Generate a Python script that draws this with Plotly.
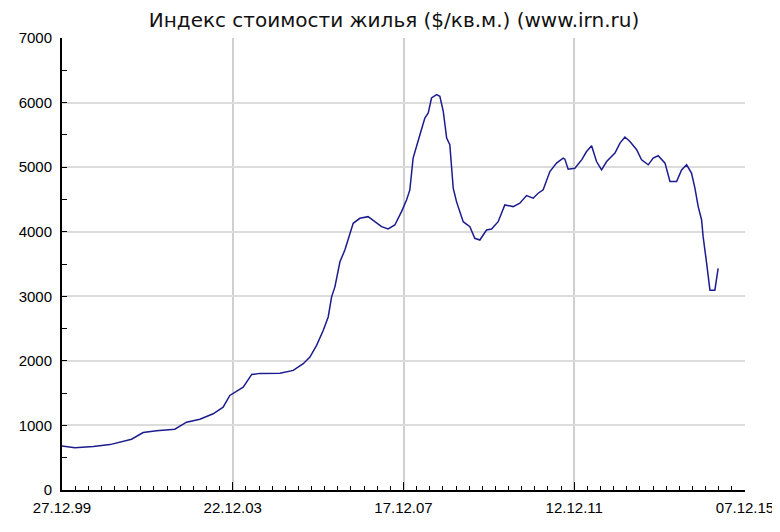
import plotly.graph_objects as go

dates = [
    "1999-12-27", "2000-04-15", "2000-09-19", "2001-02-08", "2001-08-11", "2001-11-18",
    "2002-03-13", "2002-08-15", "2002-11-23", "2003-03-17", "2003-07-08", "2003-10-01",
    "2003-11-27", "2004-03-20", "2004-06-01", "2004-08-10", "2005-01-28", "2005-05-21",
    "2005-08-14", "2005-10-10", "2005-12-06", "2006-02-01", "2006-03-15", "2006-04-13",
    "2006-05-11", "2006-06-23", "2006-08-04", "2006-09-16", "2006-10-14", "2006-12-10",
    "2007-02-18", "2007-04-17", "2007-06-13", "2007-08-08", "2007-10-04", "2007-11-30",
    "2008-01-12", "2008-02-09", "2008-03-08", "2008-05-05", "2008-06-16", "2008-07-15",
    "2008-08-12", "2008-09-24", "2008-10-22", "2008-11-20", "2008-12-19", "2009-01-15",
    "2009-02-13", "2009-03-13", "2009-05-09", "2009-07-05", "2009-08-16", "2009-09-28",
    "2009-11-24", "2010-01-06", "2010-03-03", "2010-04-29", "2010-07-09", "2010-09-04",
    "2010-10-31", "2010-12-27", "2011-02-07", "2011-03-22", "2011-05-18", "2011-07-14",
    "2011-09-08", "2011-09-23", "2011-10-21", "2011-12-17", "2012-02-13", "2012-03-26",
    "2012-05-08", "2012-06-19", "2012-08-01", "2012-09-13", "2012-11-23", "2013-01-05",
    "2013-02-16", "2013-03-31", "2013-05-27", "2013-07-08", "2013-09-03", "2013-10-15",
    "2013-11-27", "2014-01-24", "2014-03-07", "2014-05-03", "2014-06-14", "2014-07-27",
    "2014-09-07", "2014-10-06", "2014-11-03", "2014-12-02", "2014-12-15", "2015-01-14",
    "2015-02-11", "2015-03-25", "2015-04-22",
]
values = [
    680, 655, 672, 703, 786, 890,
    916, 941, 1050, 1096, 1180, 1283,
    1464, 1593, 1790, 1806, 1808, 1852,
    1956, 2059, 2240, 2474, 2680, 2991,
    3146, 3534, 3716, 3975, 4130, 4208,
    4233, 4155, 4078, 4042, 4104, 4311,
    4492, 4648, 5140, 5501, 5761, 5839,
    6071, 6122, 6096, 5863, 5450, 5346,
    4674, 4466, 4155, 4078, 3898, 3871,
    4026, 4042, 4155, 4415, 4389, 4441,
    4560, 4519, 4596, 4648, 4932, 5062,
    5140, 5124, 4969, 4984, 5113, 5242,
    5331, 5087, 4958, 5087, 5217, 5373,
    5466, 5398, 5269, 5113, 5036, 5140,
    5176, 5062, 4777, 4777, 4958, 5036,
    4907, 4674, 4389, 4182, 3923, 3509,
    3095, 3095, 3432,
]

x_tick_vals = ["1999-12-27", "2003-12-22", "2007-12-17", "2011-12-12", "2015-12-07"]
x_tick_text = ["27.12.99", "22.12.03", "17.12.07", "12.12.11", "07.12.15"]
y_tick_vals = [0, 1000, 2000, 3000, 4000, 5000, 6000, 7000]
title_text = "Индекс стоимости жилья ($/кв.м.) (www.irn.ru)"

fig = go.Figure()
fig.add_trace(go.Scatter(
    x=dates, y=values, mode="lines",
    line=dict(color="#1c1c8e", width=1.5),
    showlegend=False,
))

# the page body adds an 8px margin, so the figure is sized to fit 780x532
fig.update_layout(
    width=772, height=516,
    margin=dict(l=54, r=35, t=30, b=34),
    paper_bgcolor="white", plot_bgcolor="white",
    title=dict(text=title_text, x=0.5, xanchor="center", y=0.977, yanchor="middle",
               font=dict(family="DejaVu Sans", size=20, color="#111111")),
    font=dict(family="Liberation Sans", size=15, color="black"),
)
fig.update_xaxes(
    type="date", automargin=False,
    range=["1999-12-27", "2015-12-07"],
    tickmode="array", tickvals=x_tick_vals, ticktext=x_tick_text,
    ticks="inside", ticklen=8, tickwidth=1, tickcolor="black",
    showline=True, linecolor="black", linewidth=2,
    showgrid=True, gridcolor="#d0d0d0", gridwidth=1.5,
    zeroline=False,
    minor=dict(ticks="inside", ticklen=4, tickcolor="black", tickwidth=1,
               tick0="1999-12-27", dtick=112 * 86400000, showgrid=False),
    tickfont=dict(size=15, color="black"),
    ticklabelstandoff=3,
    ticklabeloverflow="allow",
)
fig.update_yaxes(
    automargin=False,
    range=[0, 7000],
    tickmode="array", tickvals=y_tick_vals,
    ticks="inside", ticklen=5, tickwidth=1, tickcolor="black",
    showline=True, linecolor="black", linewidth=2,
    showgrid=True, gridcolor="#dcdcdc", gridwidth=1.5,
    zeroline=False,
    minor=dict(ticks="inside", ticklen=5, tickcolor="black", dtick=500, showgrid=False),
    tickfont=dict(size=15, color="black"),
    ticklabelstandoff=5,
    ticklabeloverflow="allow",
)

fig.write_html("out.html")
